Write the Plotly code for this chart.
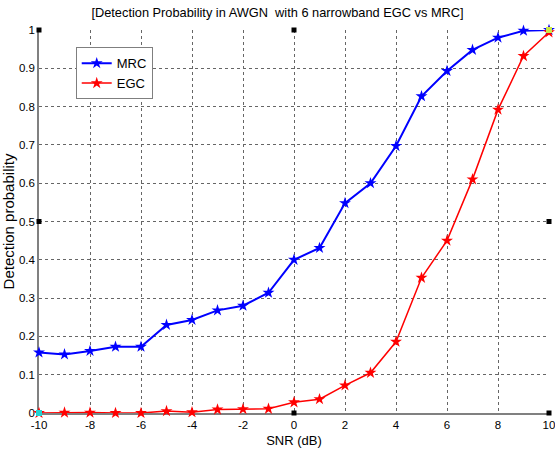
import plotly.graph_objects as go

snr = [-10, -9, -8, -7, -6, -5, -4, -3, -2, -1, 0, 1, 2, 3, 4, 5, 6, 7, 8, 9, 10]
mrc = [0.158, 0.153, 0.162, 0.173, 0.173, 0.230, 0.243, 0.268, 0.280, 0.314,
       0.400, 0.431, 0.548, 0.600, 0.697, 0.827, 0.893, 0.948, 0.980, 0.998, 1.0]
egc = [0.000, 0.001, 0.001, 0.000, 0.000, 0.005, 0.002, 0.009, 0.010, 0.011,
       0.028, 0.036, 0.072, 0.105, 0.186, 0.353, 0.450, 0.610, 0.792, 0.932, 0.994]

x_ticks = [-10, -8, -6, -4, -2, 0, 2, 4, 6, 8, 10]
x_tick_text = ["-10", "-8", "-6", "-4", "-2", "0", "2", "4", "6", "8", "10"]
y_ticks = [0, 0.1, 0.2, 0.3, 0.4, 0.5, 0.6, 0.7, 0.8, 0.9, 1]
y_tick_text = ["0", "0.1", "0.2", "0.3", "0.4", "0.5", "0.6", "0.7", "0.8", "0.9", "1"]

# edit-mode selection handles visible in the original figure
handle_x = [-10, 0, 10, 0, -10, 10]
handle_y = [1, 1, 0.5, 0, 0.5, 0]
# highlighted end points (data-cursor style marks in the original)
hl_x = [-10, 10]
hl_y = [0, 1]
hl_color = ["#22D3D3", "#C8E84A"]

FONT = "Liberation Sans, Arial, sans-serif"

fig = go.Figure()
fig.add_trace(go.Scatter(x=snr, y=mrc, name="MRC", mode="lines+markers",
                         line=dict(color="#0000FF", width=2),
                         marker=dict(symbol="star", size=9, color="#0000FF"),
                         cliponaxis=False))
fig.add_trace(go.Scatter(x=snr, y=egc, name="EGC", mode="lines+markers",
                         line=dict(color="#FF0000", width=1.5),
                         marker=dict(symbol="star", size=9, color="#FF0000"),
                         cliponaxis=False))
fig.add_trace(go.Scatter(x=handle_x, y=handle_y, mode="markers", showlegend=False,
                         marker=dict(symbol="square", size=5, color="black"),
                         cliponaxis=False, hoverinfo="skip"))
fig.add_trace(go.Scatter(x=hl_x, y=hl_y, mode="markers", showlegend=False,
                         marker=dict(symbol="square", size=6, color=hl_color),
                         cliponaxis=False, hoverinfo="skip"))

fig.update_layout(
    width=555, height=452,
    margin=dict(l=39, r=6, t=30, b=39, autoexpand=False),
    paper_bgcolor="white", plot_bgcolor="white",
    font=dict(family=FONT, size=12, color="black"),
    title=dict(text="[Detection Probability in AWGN  with 6 narrowband EGC vs MRC]",
               x=0.5, xanchor="center", y=0.983, yanchor="top",
               font=dict(family=FONT, size=12.8, color="black")),
    legend=dict(x=0.072, y=0.955, xanchor="left", yanchor="top",
                bgcolor="white", bordercolor="#7f7f7f", borderwidth=1,
                font=dict(family=FONT, size=13, color="black"),
                itemwidth=30, tracegroupgap=0),
    showlegend=True,
)
fig.update_xaxes(range=[-10, 10], tickvals=x_ticks, ticktext=x_tick_text, showgrid=True,
                 gridcolor="#666666", griddash="dot", gridwidth=1,
                 showline=True, linecolor="#808080", linewidth=1.5,
                 zeroline=False, ticks="", tickfont=dict(size=11.5),
                 ticklabeloverflow="allow", layer="below traces", automargin=False,
                 title=dict(text="SNR (dB)", font=dict(size=13), standoff=6))
fig.update_yaxes(range=[0, 1], tickvals=y_ticks, ticktext=y_tick_text, showgrid=True,
                 gridcolor="#666666", griddash="dot", gridwidth=1,
                 showline=True, linecolor="#808080", linewidth=1.5,
                 zeroline=False, ticks="", tickfont=dict(size=11.5),
                 ticklabeloverflow="allow", layer="below traces", automargin=False,
                 title=dict(text="Detection probability", font=dict(size=15), standoff=4))

fig.write_html("out.html", config={"displayModeBar": False},
               post_script="document.body.style.margin='0';")
